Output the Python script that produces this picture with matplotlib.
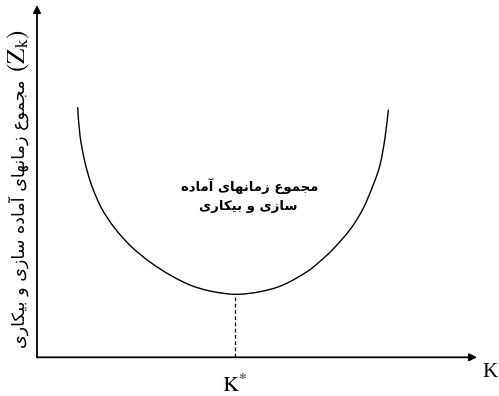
import matplotlib
matplotlib.use("Agg")
import matplotlib.pyplot as plt
from matplotlib.path import Path
from matplotlib.patches import PathPatch

# Curve readings: K (horizontal) and total set-up + idle time Z_k (vertical)
k_values = [9.25, 9.77, 10.91, 12.43, 14.70, 17.73, 21.52, 25.68, 30.23, 34.77, 39.32, 45.00,
            50.68, 55.91, 61.30, 64.32, 67.27, 71.14, 74.09, 76.36, 77.95, 79.09, 79.84]
z_values = [70.85, 62.95, 55.29, 48.76, 42.24, 36.56, 31.31, 27.05, 23.36, 20.52, 18.82, 17.88,
            18.62, 20.52, 24.24, 27.25, 30.68, 36.25, 42.15, 48.77, 54.59, 62.25, 70.20]
k_star = 45.00
z_star = 17.88

curve_label = ["مجموع زمانهای آماده", "سازی و بیکاری"]
y_label = "مجموع زمانهای آماده سازی و بیکاری"
x_label = "K"
k_star_label = r"$\mathrm{K}^{*}$"
z_label = r"$(\mathrm{Z}_{\mathrm{k}})$"

# --- minimal Arabic/Persian shaping (presentation forms + visual order) ---
FORMS = {
    # char: (isolated, final, initial, medial); None => joins on the right only
    "\u0627": ("\uFE8D", "\uFE8E", None, None),
    "\u0622": ("\uFE81", "\uFE82", None, None),
    "\u0628": ("\uFE8F", "\uFE90", "\uFE91", "\uFE92"),
    "\u067E": ("\uFB56", "\uFB57", "\uFB58", "\uFB59"),
    "\u062A": ("\uFE95", "\uFE96", "\uFE97", "\uFE98"),
    "\u062C": ("\uFE9D", "\uFE9E", "\uFE9F", "\uFEA0"),
    "\u062F": ("\uFEA9", "\uFEAA", None, None),
    "\u0630": ("\uFEAB", "\uFEAC", None, None),
    "\u0631": ("\uFEAD", "\uFEAE", None, None),
    "\u0632": ("\uFEAF", "\uFEB0", None, None),
    "\u0633": ("\uFEB1", "\uFEB2", "\uFEB3", "\uFEB4"),
    "\u0639": ("\uFEC9", "\uFECA", "\uFECB", "\uFECC"),
    "\u06A9": ("\uFB8E", "\uFB8F", "\uFB90", "\uFB91"),
    "\u06AF": ("\uFB92", "\uFB93", "\uFB94", "\uFB95"),
    "\u0644": ("\uFEDD", "\uFEDE", "\uFEDF", "\uFEE0"),
    "\u0645": ("\uFEE1", "\uFEE2", "\uFEE3", "\uFEE4"),
    "\u0646": ("\uFEE5", "\uFEE6", "\uFEE7", "\uFEE8"),
    "\u0648": ("\uFEED", "\uFEEE", None, None),
    "\u0647": ("\uFEE9", "\uFEEA", "\uFEEB", "\uFEEC"),
    "\u06CC": ("\uFBFC", "\uFBFD", "\uFBFE", "\uFBFF"),
    "\u064A": ("\uFEF1", "\uFEF2", "\uFEF3", "\uFEF4"),
}


def shape(text):
    chars = list(text)
    out = []
    for i, c in enumerate(chars):
        if c not in FORMS:
            out.append(c)
            continue
        prev = chars[i - 1] if i > 0 else None
        nxt = chars[i + 1] if i + 1 < len(chars) else None
        joins_prev = prev in FORMS and FORMS[prev][2] is not None
        joins_next = FORMS[c][2] is not None and nxt in FORMS
        iso, fin, ini, med = FORMS[c]
        if joins_prev and joins_next:
            out.append(med)
        elif joins_prev:
            out.append(fin)
        elif joins_next:
            out.append(ini)
        else:
            out.append(iso)
    return "".join(reversed(out))


def smooth_path(xs, ys):
    """Cubic Bezier path passing through every (x, y) point (Catmull-Rom tangents)."""
    pts = list(zip(xs, ys))
    n = len(pts)
    verts = [pts[0]]
    codes = [Path.MOVETO]
    for i in range(n - 1):
        p0 = pts[i - 1] if i > 0 else pts[i]
        p1 = pts[i]
        p2 = pts[i + 1]
        p3 = pts[i + 2] if i + 2 < n else pts[i + 1]
        c1 = (p1[0] + (p2[0] - p0[0]) / 6, p1[1] + (p2[1] - p0[1]) / 6)
        c2 = (p2[0] - (p3[0] - p1[0]) / 6, p2[1] - (p3[1] - p1[1]) / 6)
        verts += [c1, c2, p2]
        codes += [Path.CURVE4] * 3
    return Path(verts, codes)


plt.rcParams["mathtext.fontset"] = "stix"

fig = plt.figure(figsize=(4.99, 3.96), dpi=100)
left_px, right_px, top_px, bottom_px = 37, 477, 5, 357.3
W, H = 499, 396
ax = fig.add_axes([left_px / W, 1 - bottom_px / H,
                   (right_px - left_px) / W, (bottom_px - top_px) / H])
ax.set_xlim(0, 100)
ax.set_ylim(0, 100)
for s in ax.spines.values():
    s.set_visible(False)
ax.set_xticks([])
ax.set_yticks([])

# axes drawn as arrows
arrow_kw = dict(arrowstyle="-|>", color="black", lw=1.3, mutation_scale=11,
                shrinkA=0, shrinkB=0)
ax.annotate("", xy=(0, 1), xytext=(0, 0), xycoords="axes fraction",
            textcoords="axes fraction", arrowprops=arrow_kw, annotation_clip=False)
ax.annotate("", xy=(1, 0), xytext=(0, 0), xycoords="axes fraction",
            textcoords="axes fraction", arrowprops=arrow_kw, annotation_clip=False)

# total time curve
ax.add_patch(PathPatch(smooth_path(k_values, z_values), facecolor="none",
                       edgecolor="black", lw=1.0, capstyle="round"))

# optimum marker line
ax.plot([k_star, k_star], [0, z_star], color="black", lw=0.9,
        linestyle=(0, (3, 2)))

# labels
ax.text(k_star, -9.85, k_star_label, ha="center", va="baseline", fontsize=16)
ax.text(101.3, -5.6, x_label, ha="left", va="baseline", fontsize=15,
        family="Liberation Serif", clip_on=False)

ax.text(48.4, 48.6, shape(curve_label[0]), ha="center", va="center",
        fontsize=9.5, fontweight="bold", family="DejaVu Sans")
ax.text(47.9, 42.9, shape(curve_label[1]), ha="center", va="center",
        fontsize=9.5, fontweight="bold", family="DejaVu Sans")

fig.text(19 / W, 1 - 80 / H, shape(y_label), rotation=90, ha="center", va="top",
         fontsize=12.6, family="DejaVu Sans")
fig.text(19 / W, 1 - 29 / H, z_label, rotation=90, ha="center", va="top",
         fontsize=18)

fig.savefig("out.png", dpi=100)
